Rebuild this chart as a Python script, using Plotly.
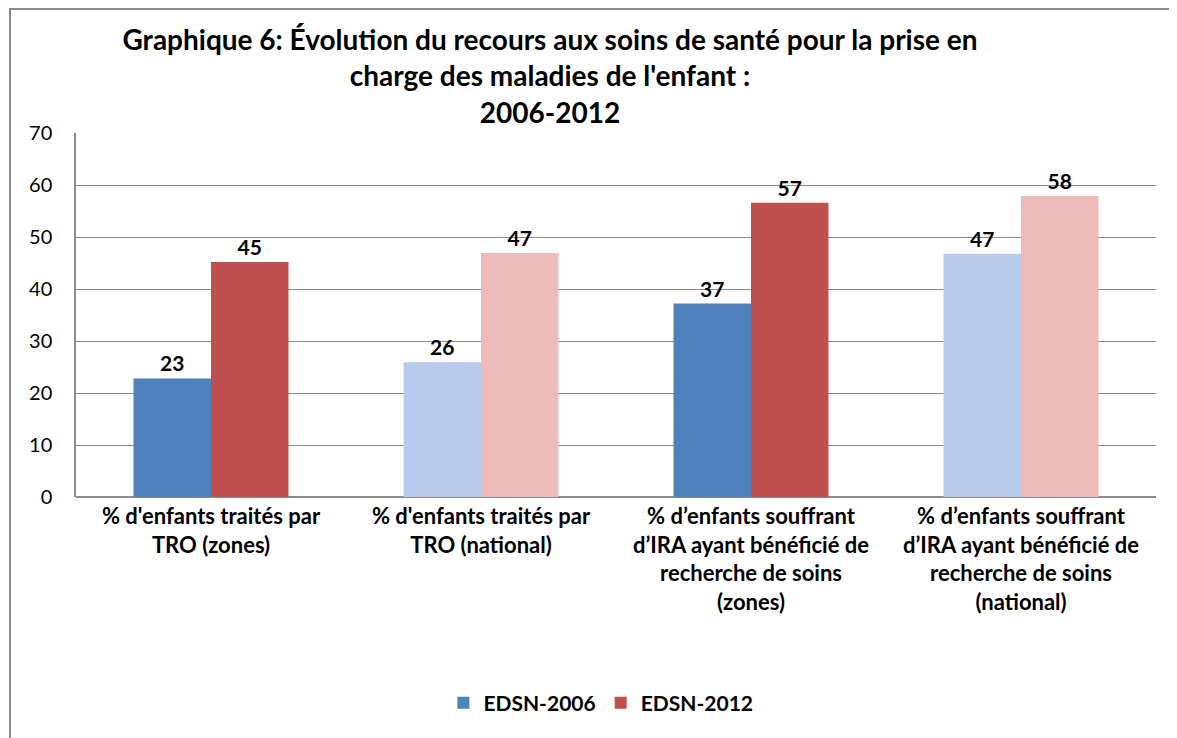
import plotly.graph_objects as go

categories = [
    "% d'enfants traités par<br>TRO (zones)",
    "% d'enfants traités par<br>TRO (national)",
    "% d’enfants souffrant<br>d’IRA ayant bénéficié de<br>recherche de soins<br>(zones)",
    "% d’enfants souffrant<br>d’IRA ayant bénéficié de<br>recherche de soins<br>(national)",
]
edsn_2006 = [22.8, 25.9, 37.2, 46.8]
edsn_2012 = [45.2, 46.9, 56.6, 57.9]

# zones bars are solid, national bars are the light (gradient-like) version
colors_2006 = ["#4f81bd", "#b9cbec", "#4f81bd", "#b9cbec"]
colors_2012 = ["#c0504d", "#eebbbb", "#c0504d", "#eebbbb"]

FONT = "Lato"
GREY = "#8c8c8c"

fig = go.Figure()
for name, vals, cols in [("EDSN-2006", edsn_2006, colors_2006),
                         ("EDSN-2012", edsn_2012, colors_2012)]:
    fig.add_trace(go.Bar(
        x=categories, y=vals, name=name,
        marker=dict(color=cols, line=dict(width=0)),
        texttemplate="%{y:.0f}", textposition="outside",
        textfont=dict(size=21, color="black", family=FONT, weight="bold"),
        cliponaxis=False,
    ))

fig.update_layout(
    width=1177, height=738,
    paper_bgcolor="white", plot_bgcolor="white",
    font=dict(family=FONT, color="black"),
    title=dict(
        text="Graphique 6: Évolution du recours aux soins de santé pour la prise en<br>"
             "charge des maladies de l'enfant :<br>2006-2012",
        x=0.4605, xanchor="center", y=1 - 42 / 738, yanchor="top",
        font=dict(size=28, family=FONT, weight="bold"),
    ),
    margin=dict(l=68, r=29, t=125, b=249, autoexpand=False),
    barmode="group", bargap=0.426, bargroupgap=0,
    legend=dict(orientation="h", x=0.486, xanchor="center", y=-0.566, yanchor="middle",
                font=dict(size=21, family=FONT, weight="bold"), traceorder="normal"),
    xaxis=dict(showgrid=False, showline=False, ticks="",
               tickfont=dict(size=22, family=FONT, weight="bold"), tickangle=0,
               ticklabelstandoff=4),
    yaxis=dict(range=[0, 70], dtick=10, showgrid=True, gridcolor=GREY, gridwidth=1.3,
               zeroline=True, zerolinecolor=GREY, zerolinewidth=1.5,
               showline=True, linecolor=GREY, linewidth=1.5,
               tickfont=dict(size=20, family=FONT), ticklabelstandoff=18),
    shapes=[dict(type="rect", xref="paper", yref="paper",
                 x0=-0.0611, x1=1.04, y0=-0.70, y1=1.3407,
                 line=dict(color=GREY, width=2))],
)

fig.write_html("out.html")
